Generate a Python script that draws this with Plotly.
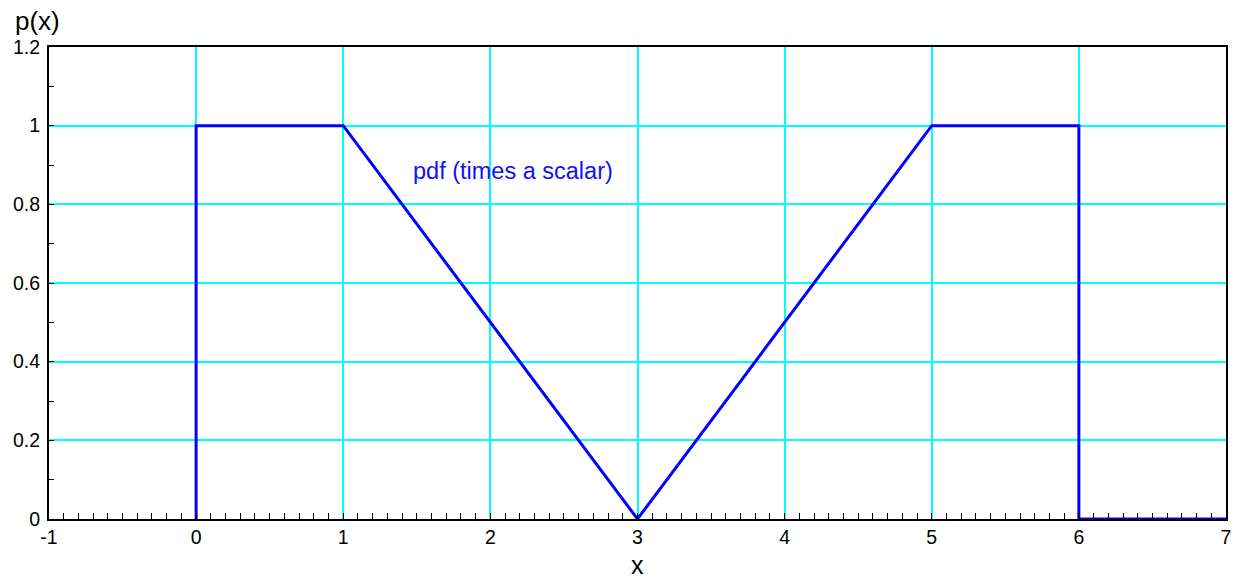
import plotly.graph_objects as go

x_vals = [0, 0, 1, 3, 5, 6, 6, 7]
y_vals = [0, 1, 1, 0, 1, 1, 0, 0]
x_ticks = [-1, 0, 1, 2, 3, 4, 5, 6, 7]
x_tick_labels = ["-1", "0", "1", "2", "3", "4", "5", "6", "7"]
y_ticks = [0, 0.2, 0.4, 0.6, 0.8, 1.0, 1.2]
y_tick_labels = ["0", "0.2", "0.4", "0.6", "0.8", "1", "1.2"]
label_text = "pdf (times a scalar)"
label_pos = (1.46, 0.885)

fig = go.Figure()
fig.add_trace(go.Scatter(x=x_vals, y=y_vals, mode="lines",
                         line=dict(color="#0000ff", width=3), showlegend=False,
                         cliponaxis=False))

font = "Liberation Sans, Arial, sans-serif"
fig.update_layout(
    template="none",
    width=1236, height=582,
    margin=dict(l=49, r=10, t=47, b=63, autoexpand=False),
    paper_bgcolor="white", plot_bgcolor="white",
    font=dict(family=font, color="black", size=20),
    showlegend=False,
)
fig.update_xaxes(
    range=[-1, 7], tickvals=x_ticks, ticktext=x_tick_labels, ticks="inside", ticklen=0,
    showgrid=True, gridcolor="#00ffff", gridwidth=1.5,
    showline=True, linecolor="black", linewidth=2, mirror=True,
    zeroline=False, tickfont=dict(size=19.5, family=font), automargin=False,
    minor=dict(dtick=0.1, tick0=0, ticks="inside", ticklen=6, tickcolor="black",
               showgrid=False),
)
fig.update_yaxes(
    range=[0, 1.2], tickvals=y_ticks, ticktext=y_tick_labels, ticks="inside", ticklen=0,
    showgrid=True, gridcolor="#00ffff", gridwidth=1.5,
    showline=True, linecolor="black", linewidth=2, mirror=True,
    zeroline=False, tickfont=dict(size=19.5, family=font), automargin=False,
    ticklabelstandoff=3,
    minor=dict(dtick=0.1, tick0=0, ticks="inside", ticklen=5, tickcolor="black",
               showgrid=False),
)
fig.add_annotation(x=label_pos[0], y=label_pos[1], xref="x", yref="y", text=label_text,
                   showarrow=False, xanchor="left", yanchor="middle",
                   font=dict(size=23.5, color="#1010ff", family=font))
fig.add_annotation(x=0.5, y=-0.0975, xref="paper", yref="paper", text="x", showarrow=False,
                   xanchor="center", yanchor="middle",
                   font=dict(size=25, family=font, color="black"))
fig.add_annotation(x=-0.0305, y=1.056, xref="paper", yref="paper", text="p(x)", showarrow=False,
                   xanchor="left", yanchor="middle",
                   font=dict(size=26, family=font, color="black"))
fig.write_html("out.html", config={"displayModeBar": False},
               post_script="document.body.style.margin='0';document.body.style.overflow='hidden';")
